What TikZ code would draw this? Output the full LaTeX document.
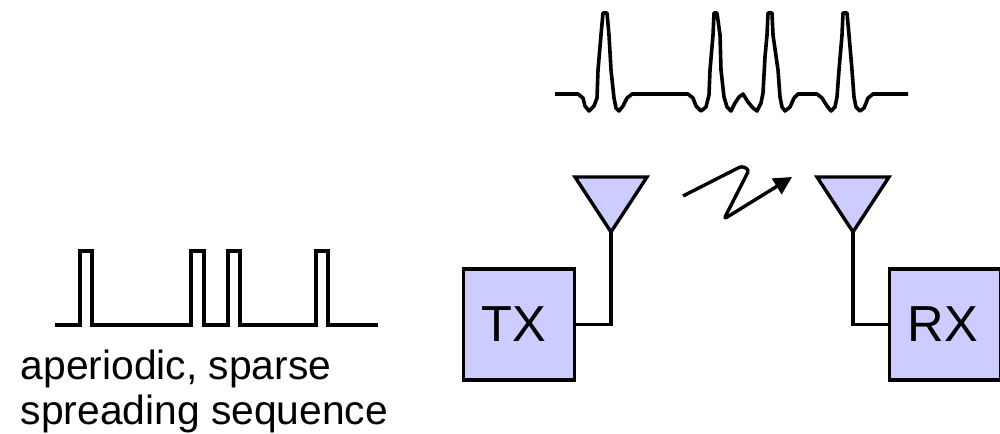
\documentclass[tikz,border=0pt]{standalone}
\usepackage{xcolor}
\usepackage{fontspec}
\setmainfont{Liberation Sans}
\usetikzlibrary{shapes.geometric, arrows.meta, positioning}
\definecolor{boxblue}{RGB}{204,204,255}

\begin{document}
\begin{tikzpicture}[
    x=0.01cm, y=-0.01cm,
    wire/.style={line width=0.034cm, line join=miter},
    wave/.style={line width=0.036cm, line join=round},
    arrow/.style={-{Triangle[length=0.18cm, width=0.18cm]}, line width=0.034cm, line join=round},
    radio/.style={draw, line width=0.034cm, fill=boxblue, minimum width=1.11cm, minimum height=1.11cm,
                inner sep=0pt, outer sep=0pt, font=\fontsize{14.4pt}{17pt}\selectfont},
    antenna/.style={draw, line width=0.034cm, fill=boxblue, isosceles triangle, isosceles triangle stretches,
                shape border rotate=270, minimum width=0.72cm, minimum height=0.55cm,
                inner sep=0pt, outer sep=0pt, anchor=apex}
]
\useasboundingbox (0,0) rectangle (1000,433);

% transmitter and receiver
\node[radio] (tx) at (519,324.5) {\hspace{-0.1cm}TX};
\node[radio] (rx) at (945,324.5) {\hspace{-0.04cm}RX};
\node[antenna] (txant) at (611,232) {};
\node[antenna] (rxant) at (853,232) {};
\draw[wire] (txant.apex) |- (tx.east);
\draw[wire] (rxant.apex) |- (rx.west);

% radio link
\coordinate (linkstart) at (683,196);
\coordinate (linkend) at (792,177);
\draw[arrow, rounded corners=0.03cm] (linkstart) -- (742,166) -- (749,170) -- (724,219) -- (linkend);

% received pulses
\draw[wave] (555,94) -- (578,94) -- (583,98) -- (585,106) -- (589,111) -- (594,106) -- (597,98)
    -- (598,70) -- (601,35) -- (603,13) -- (607,13) -- (609,35) -- (611,70) -- (614,98)
    -- (616,108) -- (619,111) -- (623,106) -- (627,98) -- (632,94)
    -- (688,94) -- (693,98) -- (696,106) -- (701,111) -- (706,107) -- (709,95)
    -- (710,70) -- (713,35) -- (714,13) -- (717,13) -- (720,35) -- (721,70) -- (724,97)
    -- (727,107) -- (731,111) -- (735,103) -- (739,97) -- (743,94) -- (748,102) -- (753,108)
    -- (757,111) -- (761,103) -- (763,93) -- (765,57) -- (767,35) -- (768,13) -- (772,13)
    -- (773,35) -- (778,70) -- (780,97) -- (782,107) -- (785,111) -- (790,107) -- (794,98) -- (798,94)
    -- (817,94) -- (822,98) -- (827,106) -- (831,111) -- (835,107) -- (837,97)
    -- (839,70) -- (842,35) -- (843,13) -- (847,13) -- (849,35) -- (852,70) -- (854,97)
    -- (856,107) -- (860,111) -- (864,108) -- (868,98) -- (873,94) -- (908,94);

% spreading sequence
\draw[wire] (55,325) -- (80,325) -- (80,251) -- (92,251) -- (92,325)
    -- (191,325) -- (191,251) -- (204,251) -- (204,325)
    -- (228,325) -- (228,251) -- (240,251) -- (240,325)
    -- (316,325) -- (316,251) -- (328,251) -- (328,325) -- (378,325);

\node[align=left, inner sep=0pt, anchor=north west, font=\fontsize{11.6pt}{13pt}\selectfont] (seqlabel) at (20,349)
    {aperiodic, sparse\\spreading sequence};
\end{tikzpicture}
\end{document}
